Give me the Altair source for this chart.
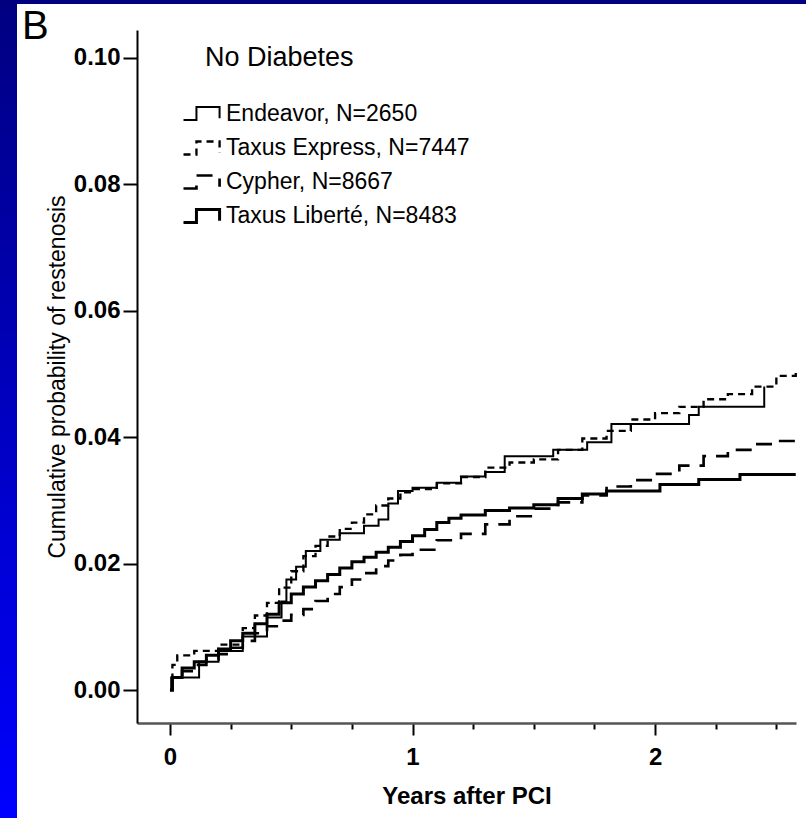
import altair as alt
import pandas as pd

# ---------------- data ----------------
series_names = [
    "Endeavor, N=2650",
    "Taxus Express, N=7447",
    "Cypher, N=8667",
    "Taxus Liberté, N=8483",
]

endeavor_t = [0, 0.005, 0.12, 0.2, 0.3, 0.4, 0.46, 0.48, 0.52, 0.56, 0.62, 0.7, 0.8, 0.86, 0.9,
              0.94, 1.0, 1.1, 1.2, 1.3, 1.38, 1.58, 1.72, 1.82, 2.14, 2.18, 2.45]
endeavor_p = [0, 0.002, 0.0045, 0.0062, 0.0085, 0.0115, 0.014, 0.0175, 0.0195, 0.022, 0.0238, 0.0248,
              0.026, 0.027, 0.0295, 0.0315, 0.032, 0.0328, 0.0338, 0.0345, 0.037, 0.038, 0.0392, 0.0421,
              0.0435, 0.0448, 0.048]

express_t = [0, 0.01, 0.03, 0.1, 0.2, 0.3, 0.35, 0.4, 0.45, 0.5, 0.55, 0.6, 0.65, 0.7, 0.75, 0.8, 0.85,
             0.9, 0.95, 1.0, 1.1, 1.2, 1.3, 1.4, 1.5, 1.6, 1.7, 1.8, 1.9, 2.0, 2.1, 2.2, 2.3, 2.4, 2.5, 2.58]
express_p = [0, 0.004, 0.0055, 0.0062, 0.0072, 0.0098, 0.0118, 0.0138, 0.0162, 0.0188, 0.0212, 0.0228,
             0.0243, 0.0255, 0.0265, 0.0278, 0.0292, 0.0303, 0.0313, 0.0318, 0.0327, 0.0337, 0.0352, 0.036,
             0.0365, 0.038, 0.0398, 0.041, 0.0428, 0.0438, 0.0448, 0.046, 0.0468, 0.048, 0.0497, 0.0508]

cypher_t = [0, 0.01, 0.05, 0.1, 0.15, 0.2, 0.25, 0.3, 0.35, 0.4, 0.45, 0.5, 0.55, 0.6, 0.65, 0.7, 0.75,
            0.8, 0.85, 0.9, 0.95, 1.0, 1.1, 1.2, 1.3, 1.4, 1.5, 1.6, 1.7, 1.8, 1.9, 2.0, 2.1, 2.2, 2.3,
            2.4, 2.5, 2.58]
cypher_p = [0, 0.002, 0.003, 0.004, 0.0048, 0.0057, 0.0067, 0.0078, 0.009, 0.0101, 0.011, 0.0119, 0.0128,
            0.0141, 0.0152, 0.0163, 0.0175, 0.0185, 0.0196, 0.0205, 0.0214, 0.0222, 0.0237, 0.0247, 0.0262,
            0.0275, 0.0287, 0.0297, 0.0308, 0.0322, 0.0332, 0.0342, 0.0355, 0.037, 0.038, 0.0389, 0.0394,
            0.0398]

liberte_t = [0, 0.01, 0.05, 0.1, 0.15, 0.2, 0.25, 0.3, 0.35, 0.4, 0.45, 0.5, 0.55, 0.6, 0.65, 0.7, 0.75,
             0.8, 0.85, 0.9, 0.95, 1.0, 1.05, 1.1, 1.15, 1.2, 1.3, 1.4, 1.5, 1.6, 1.7, 1.8, 2.02, 2.18,
             2.35, 2.58]
liberte_p = [0, 0.002, 0.0035, 0.0045, 0.0055, 0.0065, 0.0078, 0.009, 0.0105, 0.012, 0.0138, 0.0152,
             0.0163, 0.0173, 0.0183, 0.0193, 0.0203, 0.021, 0.0218, 0.0226, 0.0235, 0.0244, 0.0254, 0.0265,
             0.0272, 0.0277, 0.0284, 0.0288, 0.0293, 0.0303, 0.031, 0.0315, 0.0325, 0.0333, 0.0341, 0.0341]

y_tick_values = [0, 0.02, 0.04, 0.06, 0.08, 0.10]
x_tick_values = [0, 0.25, 0.5, 0.75, 1, 1.25, 1.5, 1.75, 2, 2.25, 2.5]

panel_label = "B"
legend_title = "No Diabetes"
x_title = "Years after PCI"
y_title = "Cumulative probability of restenosis"

# ---------------- build table ----------------
rows = []
for name, ts, ps in zip(series_names,
                        [endeavor_t, express_t, cypher_t, liberte_t],
                        [endeavor_p, express_p, cypher_p, liberte_p]):
    for t, p in zip(ts, ps):
        rows.append({"series": name, "years": t, "prob": p})
df = pd.DataFrame(rows)

FONT = "Liberation Sans"
W, H = 659, 693
PAD_L, PAD_T, PAD_R, PAD_B = 137, 30, 10, 95

step_path = "M-1,0.35 H-0.3 V-0.35 H0.95 V0.25"

legend = alt.Legend(
    title=None, orient="none", legendX=45, legendY=64,
    symbolType=step_path, symbolSize=1369,
    symbolFillColor="transparent", symbolStrokeColor="black",
    labelFont=FONT, labelFontSize=23, labelColor="black", labelLimit=600,
    labelOffset=4, rowPadding=2, padding=0,
)

lines = alt.Chart(df).mark_line(interpolate="step-after", color="black", strokeCap="butt").encode(
    x=alt.X("years:Q", title=x_title,
            scale=alt.Scale(domain=[-0.136, 2.581], nice=False, zero=False),
            axis=alt.Axis(values=x_tick_values, zindex=2,
                          labelExpr="datum.value % 1 === 0 ? format(datum.value, 'd') : ''",
                          tickSize={"condition": {"test": "datum.value % 1 === 0", "value": 12}, "value": 6},
                          tickWidth=2, tickColor="black", domainColor="#555555", domainWidth=2.5,
                          labelFont=FONT, labelFontWeight="bold", labelFontSize=24, labelColor="black",
                          labelPadding=10, grid=False,
                          titleFont=FONT, titleFontWeight="bold", titleFontSize=24, titleColor="black",
                          titlePadding=15)),
    y=alt.Y("prob:Q", title=y_title,
            scale=alt.Scale(domain=[-0.0052, 0.1044], nice=False, zero=False),
            axis=alt.Axis(values=y_tick_values, format=".2f", zindex=2,
                          tickSize=14, tickWidth=2, tickColor="black", domainColor="black", domainWidth=2,
                          labelFont=FONT, labelFontWeight="bold", labelFontSize=24, labelColor="black",
                          labelPadding=3, grid=False,
                          titleFont=FONT, titleFontWeight="normal", titleFontSize=23, titleColor="black",
                          titlePadding=4)),
    strokeDash=alt.StrokeDash("series:N", scale=alt.Scale(domain=series_names,
                              range=[[1, 0], [7, 5], [16, 10], [1, 0]]), legend=legend),
    strokeWidth=alt.StrokeWidth("series:O", scale=alt.Scale(domain=series_names,
                                range=[2, 3, 6.5, 6.5]), legend=legend),
)

one = pd.DataFrame({"k": [0]})
gradient = alt.Gradient(gradient="linear",
                        stops=[alt.GradientStop(color="#000080", offset=0),
                               alt.GradientStop(color="#0000ff", offset=1)],
                        x1=0, x2=0, y1=0, y2=1)
blue_bg = alt.Chart(one).mark_rect(fill=gradient).encode(
    x=alt.value(-PAD_L), x2=alt.value(W + PAD_R), y=alt.value(-PAD_T), y2=alt.value(H + PAD_B))
white_bg = alt.Chart(one).mark_rect(fill="white").encode(
    x=alt.value(17 - PAD_L), x2=alt.value(W + PAD_R), y=alt.value(4 - PAD_T), y2=alt.value(H + PAD_B))

b_text = alt.Chart(pd.DataFrame({"label": [panel_label]})).mark_text(
    font=FONT, fontSize=40, color="black", align="left", baseline="alphabetic").encode(
    x=alt.value(22 - PAD_L), y=alt.value(39 - PAD_T), text="label:N")

nd_text = alt.Chart(pd.DataFrame({"label": [legend_title]})).mark_text(
    font=FONT, fontSize=27, color="black", align="left", baseline="middle").encode(
    x=alt.value(205 - PAD_L), y=alt.value(58 - PAD_T), text="label:N")

chart = alt.layer(blue_bg, white_bg, lines, b_text, nd_text).properties(
    width=W, height=H,
    autosize=alt.AutoSizeParams(type="none"),
    padding={"left": PAD_L, "top": PAD_T, "right": PAD_R, "bottom": PAD_B},
    background="#0000c0",
).configure_view(stroke=None)

chart.save("out.html", embed_options={"renderer": "svg", "actions": False})
